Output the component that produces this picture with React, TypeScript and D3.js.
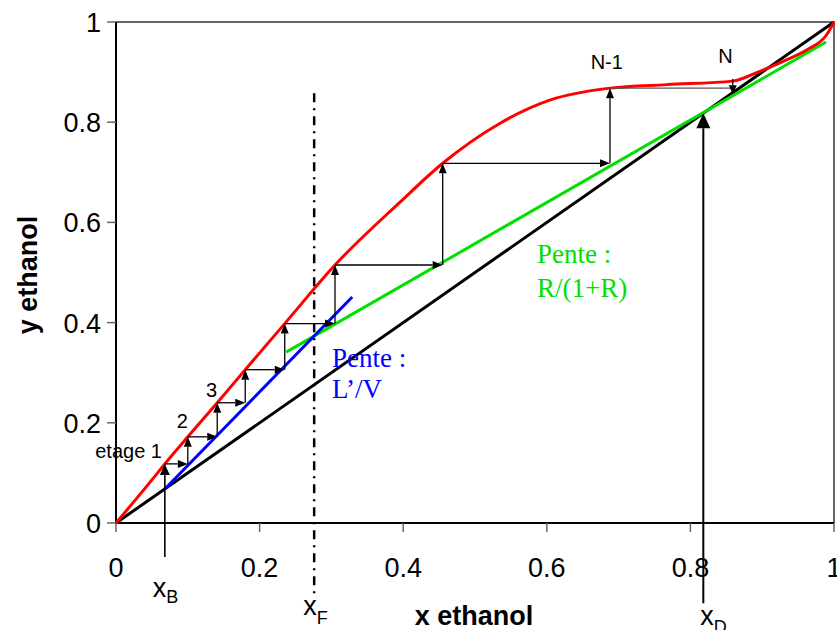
import React from "react";
import * as d3 from "d3";

// ---- data ----
const tickValues = [0, 0.2, 0.4, 0.6, 0.8, 1];
const tickLabels = ["0", "0.2", "0.4", "0.6", "0.8", "1"];

// equilibrium curve (red)
const eqX = [0, 0.05, 0.068, 0.1, 0.141, 0.18, 0.235, 0.305, 0.396, 0.455, 0.535, 0.604, 0.688, 0.767, 0.859, 0.894, 0.93, 0.962, 0.99, 1];
const eqY = [0, 0.086, 0.118, 0.172, 0.24, 0.306, 0.398, 0.515, 0.641, 0.718, 0.798, 0.844, 0.868, 0.875, 0.882, 0.9, 0.922, 0.944, 0.975, 1];

// operating lines
const diagX = [0, 1];
const diagY = [0, 1];
const strippingX = [0.068, 0.329]; // blue
const strippingY = [0.068, 0.451];
const rectifX = [0.237, 0.989]; // green
const rectifY = [0.341, 0.96];

// McCabe-Thiele staircase
const stepX = [0.068, 0.1, 0.141, 0.18, 0.235, 0.305, 0.455, 0.688, 0.859];
const stepY = [0.118, 0.172, 0.24, 0.306, 0.398, 0.515, 0.718, 0.868];
const lastStageTop = 0.886;
const lastStageBottom = 0.856;

// composition markers
const xB = 0.068;
const xF = 0.276;
const xD = 0.818;
const xBStartY = -0.068;
const xDStartY = -0.16;
const xFRange = [-0.148, 0.858];

const stageLabels = [
  { t: "etage 1", x: 0.064, y: 0.13 },
  { t: "2", x: 0.1, y: 0.19 },
  { t: "3", x: 0.141, y: 0.251 },
  { t: "N-1", x: 0.706, y: 0.906 },
  { t: "N", x: 0.859, y: 0.918 },
];

const W = 837;
const H = 630;
const x = d3.scaleLinear().domain([0, 1]).range([116, 834]);
const y = d3.scaleLinear().domain([0, 1]).range([523, 22]);

function Arrow({ x1, y1, x2, y2, len = 10, wid = 8, sw = 1.3, color = "#000", head = true }: any) {
  const px1 = x(x1), py1 = y(y1), px2 = x(x2), py2 = y(y2);
  const dx = px2 - px1, dy = py2 - py1;
  const L = Math.hypot(dx, dy) || 1;
  const ux = dx / L, uy = dy / L;
  const bx = px2 - ux * len, by = py2 - uy * len;
  const nx = -uy, ny = ux;
  const ex = head ? bx : px2;
  const ey = head ? by : py2;
  return (
    <g>
      <line x1={px1} y1={py1} x2={ex} y2={ey} stroke={color} strokeWidth={sw} />
      {head && (
        <polygon
          points={`${px2},${py2} ${bx + nx * wid / 2},${by + ny * wid / 2} ${bx - nx * wid / 2},${by - ny * wid / 2}`}
          fill={color}
        />
      )}
    </g>
  );
}

export default function App() {
  const eqPath = d3
    .line<[number, number]>()
    .x((d) => x(d[0]))
    .y((d) => y(d[1]))
    .curve(d3.curveMonotoneX)(eqX.map((v, i) => [v, eqY[i]]) as [number, number][]);
  const straight = (xs: number[], ys: number[]) =>
    d3
      .line<[number, number]>()
      .x((d) => x(d[0]))
      .y((d) => y(d[1]))(xs.map((v, i) => [v, ys[i]]) as [number, number][]);

  const stairs: any[] = [];
  for (let i = 0; i < stepY.length; i++) {
    const bottom = i === 0 ? xBStartY : stepY[i - 1];
    stairs.push(
      <Arrow key={"v" + i} x1={stepX[i]} y1={bottom} x2={stepX[i]} y2={stepY[i]}
        len={i === 0 ? 11 : 10} wid={i === 0 ? 10 : 8} sw={i === 0 ? 1.6 : 1.3} />
    );
    stairs.push(
      <Arrow key={"h" + i} x1={stepX[i]} y1={stepY[i]} x2={stepX[i + 1]} y2={stepY[i]}
        head={i < stepY.length - 1} color={i === stepY.length - 1 ? "#555" : "#000"} />
    );
  }
  const last = stepX[stepX.length - 1];

  const sans = "'Liberation Sans', Arial, sans-serif";
  const serif = "'Liberation Serif', 'Times New Roman', serif";

  return (
    <svg width={W} height={H} style={{ position: "absolute", left: 0, top: 0, background: "#fff" }}
      fontFamily={sans}>
      <rect x={0} y={0} width={W} height={H} fill="#fff" />
      {/* plot frame */}
      <rect x={x(0)} y={y(1)} width={x(1) - x(0)} height={y(0) - y(1)} fill="none" stroke="#333" strokeWidth={1.5} />
      <line x1={x(0)} y1={y(0)} x2={x(0)} y2={y(1)} stroke="#000" strokeWidth={2} />
      <line x1={x(0)} y1={y(0)} x2={x(1)} y2={y(0)} stroke="#000" strokeWidth={2} />
      {/* ticks */}
      {tickValues.map((v, i) => (
        <g key={"xt" + i}>
          <line x1={x(v)} x2={x(v)} y1={y(0)} y2={y(0) + 9} stroke="#666" strokeWidth={1.5} />
          <text x={x(v)} y={577} fontSize={27} textAnchor="middle">{tickLabels[i]}</text>
        </g>
      ))}
      {tickValues.map((v, i) => (
        <g key={"yt" + i}>
          <line x1={x(0) - 9} x2={x(0)} y1={y(v)} y2={y(v)} stroke="#666" strokeWidth={1.5} />
          <text x={101} y={y(v) + 10} fontSize={27} textAnchor="end">{tickLabels[i]}</text>
        </g>
      ))}
      {/* axis titles */}
      <text x={474} y={625} fontSize={27} fontWeight="bold" textAnchor="middle">x ethanol</text>
      <text transform={`translate(37,${275}) rotate(-90)`} fontSize={27} fontWeight="bold" textAnchor="middle">y ethanol</text>

      {/* curves */}
      <path d={straight(diagX, diagY) || ""} fill="none" stroke="#000" strokeWidth={3} />
      <path d={straight(rectifX, rectifY) || ""} fill="none" stroke="#00e000" strokeWidth={3} />
      <path d={straight(strippingX, strippingY) || ""} fill="none" stroke="#0000ff" strokeWidth={3} />
      <path d={eqPath || ""} fill="none" stroke="#ff0000" strokeWidth={3} />

      {/* feed line */}
      <line x1={x(xF)} x2={x(xF)} y1={y(xFRange[1])} y2={y(xFRange[0])} stroke="#000" strokeWidth={2.5}
        strokeDasharray="9,6,2,6" />

      {/* staircase */}
      {stairs}
      <Arrow x1={last} y1={lastStageTop} x2={last} y2={lastStageBottom} len={9} wid={8} />

      {/* xD arrow */}
      <Arrow x1={xD} y1={xDStartY} x2={xD} y2={xD} len={15} wid={14} sw={2} />

      {/* stage labels */}
      {stageLabels.map((s, i) => (
        <text key={"sl" + i} x={x(s.x)} y={y(s.y)} fontSize={20} textAnchor="end">{s.t}</text>
      ))}

      {/* slope labels */}
      <text x={332} y={367} fontSize={27} fontFamily={serif} fill="#0000ff">Pente :</text>
      <text x={332} y={398} fontSize={27} fontFamily={serif} fill="#0000ff">L’/V</text>
      <text x={537} y={263} fontSize={27} fontFamily={serif} fill="#00e000">Pente :</text>
      <text x={537} y={297} fontSize={27} fontFamily={serif} fill="#00e000">R/(1+R)</text>

      {/* composition labels */}
      <text x={x(xB) - 12} y={597} fontSize={27}>x<tspan fontSize={18} dy={6}>B</tspan></text>
      <text x={x(xF) - 11} y={615} fontSize={27}>x<tspan fontSize={18} dy={9}>F</tspan></text>
      <text x={x(xD) - 3} y={625} fontSize={27}>x<tspan fontSize={18} dy={8}>D</tspan></text>
    </svg>
  );
}
